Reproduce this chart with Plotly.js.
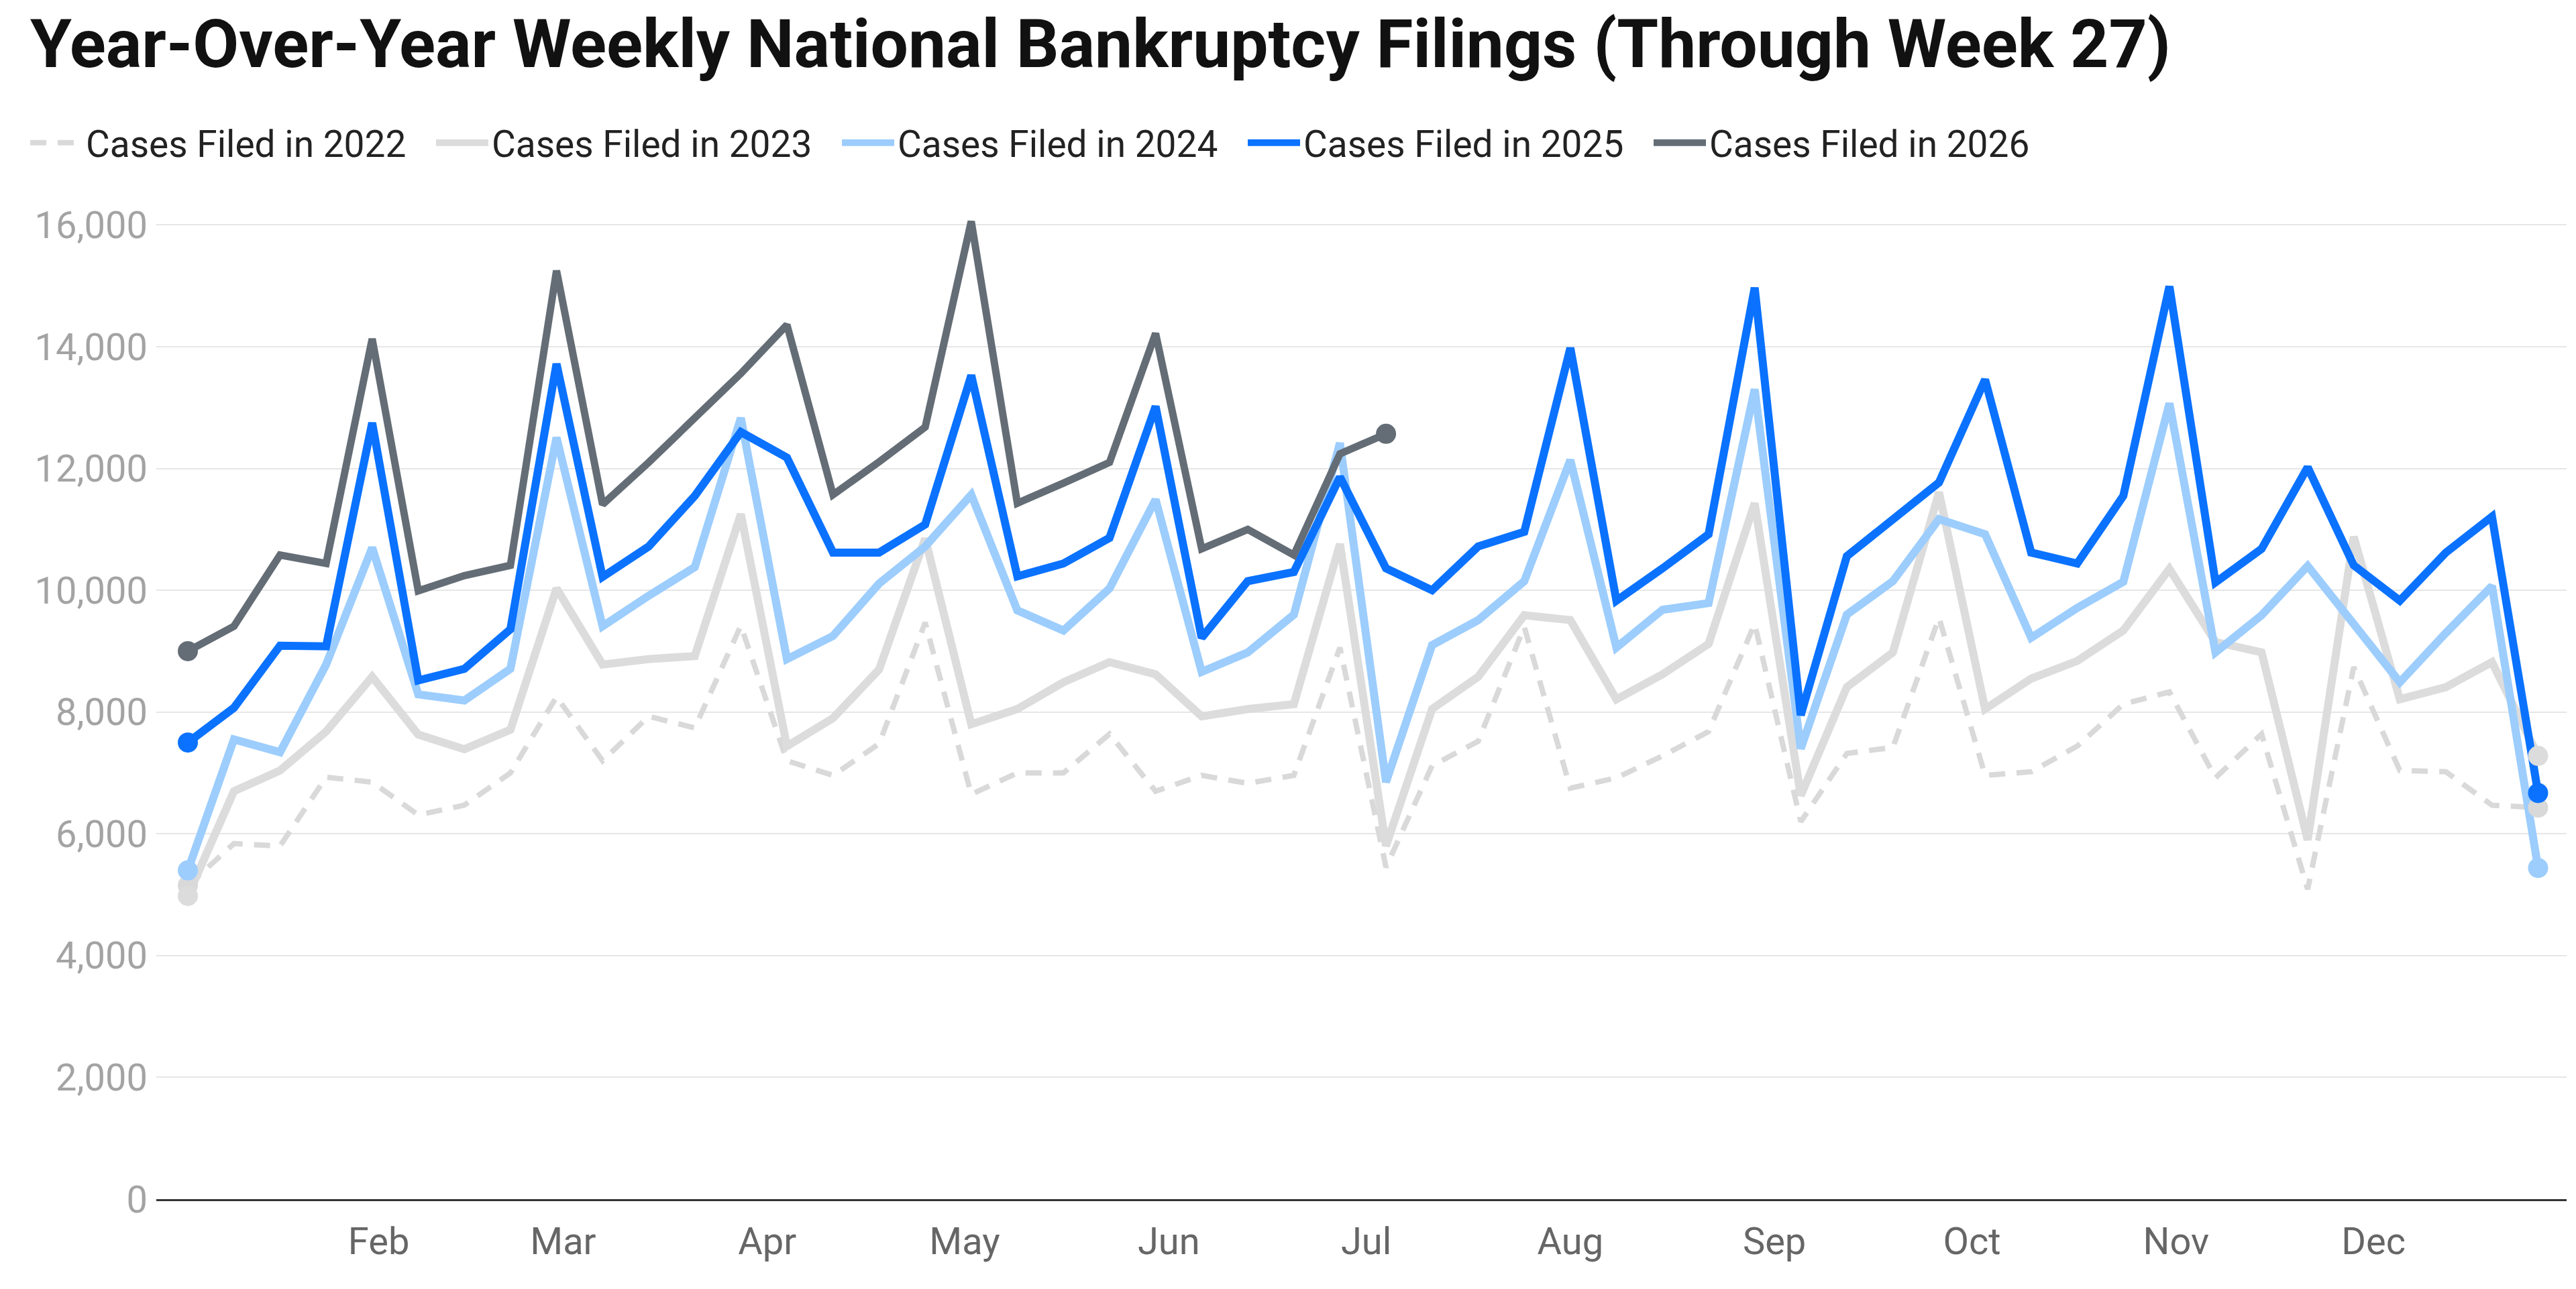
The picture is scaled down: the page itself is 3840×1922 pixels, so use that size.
<!DOCTYPE html>
<html>
<head>
<meta charset="utf-8">
<script src="https://cdn.plot.ly/plotly-3.0.1.min.js"></script>
<style>
  html, body { margin: 0; padding: 0; background: #ffffff; }
  #chart { width: 3840px; height: 1922px; }
</style>
</head>
<body>
<div id="chart"></div>
<script>
// Week-ending dates (weeks 1..52)
const weeks = [
  '2025-01-03','2025-01-10','2025-01-17','2025-01-24','2025-01-31',
  '2025-02-07','2025-02-14','2025-02-21','2025-02-28',
  '2025-03-07','2025-03-14','2025-03-21','2025-03-28',
  '2025-04-04','2025-04-11','2025-04-18','2025-04-25',
  '2025-05-02','2025-05-09','2025-05-16','2025-05-23','2025-05-30',
  '2025-06-06','2025-06-13','2025-06-20','2025-06-27',
  '2025-07-04','2025-07-11','2025-07-18','2025-07-25',
  '2025-08-01','2025-08-08','2025-08-15','2025-08-22','2025-08-29',
  '2025-09-05','2025-09-12','2025-09-19','2025-09-26',
  '2025-10-03','2025-10-10','2025-10-17','2025-10-24','2025-10-31',
  '2025-11-07','2025-11-14','2025-11-21','2025-11-28',
  '2025-12-05','2025-12-12','2025-12-19','2025-12-26'
];

const cases2022 = [5150,5840,5800,6930,6850,6310,6470,7000,8250,7200,7930,7740,9420,7200,6960,7480,9470,6650,7000,7000,7640,6700,6960,6830,6960,9060,5450,7120,7520,9400,6750,6920,7280,7680,9450,6200,7320,7420,9550,6960,7020,7440,8130,8330,6920,7640,5090,8740,7040,7020,6470,6430];
const cases2023 = [4980,6700,7040,7680,8580,7630,7390,7710,10030,8780,8870,8920,11250,7440,7900,8700,10850,7800,8050,8490,8820,8620,7930,8050,8130,10760,5800,8050,8580,9590,9510,8210,8620,9120,11430,6630,8410,8980,11610,8050,8550,8840,9340,10350,9150,8980,5900,10880,8210,8410,8820,7280];
const cases2024 = [5400,7550,7340,8780,10700,8290,8190,8710,12510,9410,9910,10380,12830,8870,9250,10110,10720,11570,9670,9340,10030,11490,8660,8980,9600,12420,6850,9100,9510,10150,12140,9060,9680,9790,13300,7400,9600,10150,11170,10920,9220,9710,10140,13070,8980,9590,10400,9470,8490,9300,10070,5440];
const cases2025 = [7500,8070,9090,9080,12750,8520,8710,9360,13720,10220,10720,11550,12600,12180,10620,10620,11080,13530,10230,10440,10860,13020,9220,10150,10300,11860,10360,10000,10720,10960,13980,9830,10360,10920,14970,7950,10560,11170,11770,13460,10620,10440,11550,14990,10130,10680,12020,10410,9830,10620,11210,6670];
const cases2026 = [9000,9410,10580,10440,14130,9990,10240,10410,15250,11410,12100,12830,13560,14360,11570,12110,12680,16060,11430,11760,12100,14220,10680,11000,10580,12240,12570];

const seriesNames = ['Cases Filed in 2022','Cases Filed in 2023','Cases Filed in 2024','Cases Filed in 2025','Cases Filed in 2026'];
const monthTicks = ['2025-02-01','2025-03-01','2025-04-01','2025-05-01','2025-06-01','2025-07-01','2025-08-01','2025-09-01','2025-10-01','2025-11-01','2025-12-01'];
const monthLabels = ['Feb','Mar','Apr','May','Jun','Jul','Aug','Sep','Oct','Nov','Dec'];
const yTicks = [0,2000,4000,6000,8000,10000,12000,14000,16000];

const seriesData = [cases2022, cases2023, cases2024, cases2025, cases2026];
const styles = [
  {color: '#d9d9d9', width: 8, dash: '24px,17px'},
  {color: '#dcdcdc', width: 12, dash: 'solid'},
  {color: '#9ccdfd', width: 12, dash: 'solid'},
  {color: '#0a72ff', width: 12, dash: 'solid'},
  {color: '#646d76', width: 11, dash: 'solid'}
];

const traces = [];
seriesData.forEach((vals, i) => {
  const xs = weeks.slice(0, vals.length);
  traces.push({
    type: 'scatter', mode: 'lines', name: seriesNames[i],
    x: xs, y: vals,
    line: {color: styles[i].color, width: styles[i].width, dash: styles[i].dash},
    hoverinfo: 'x+y'
  });
});
seriesData.forEach((vals, i) => {
  const n = vals.length;
  traces.push({
    type: 'scatter', mode: 'markers', showlegend: false,
    x: [weeks[0], weeks[n - 1]], y: [vals[0], vals[n - 1]],
    marker: {color: styles[i].color, size: 30},
    hoverinfo: 'skip'
  });
});

const layout = {
  width: 3840, height: 1922,
  paper_bgcolor: '#ffffff', plot_bgcolor: '#ffffff',
  font: {family: 'Roboto, "Open Sans", sans-serif', color: '#222222'},
  margin: {l: 233, r: 14, t: 281, b: 134, pad: 0},
  title: {
    text: 'Year-Over-Year Weekly National Bankruptcy Filings (Through Week 27)',
    font: {family: 'Roboto, sans-serif', size: 100, weight: 700, color: '#111111'},
    x: 45 / 3840, xref: 'container', xanchor: 'left',
    y: 1 - 30 / 1922, yref: 'container', yanchor: 'top'
  },
  showlegend: true,
  legend: {
    orientation: 'h', xref: 'container', yref: 'container',
    x: 40 / 3840, xanchor: 'left', y: 1 - 213 / 1922, yanchor: 'middle',
    font: {family: 'Roboto, sans-serif', size: 55, color: '#222222'},
    entrywidth: 512, entrywidthmode: 'pixels',
    itemwidth: 78, traceorder: 'normal', bgcolor: 'rgba(0,0,0,0)'
  },
  xaxis: {
    type: 'date',
    range: ['2024-12-29 05:00', '2025-12-30 08:00'],
    tickvals: monthTicks, ticktext: monthLabels,
    showgrid: false, zeroline: false,
    showline: true, linecolor: '#333333', linewidth: 3,
    ticks: '', ticklabelstandoff: 12,
    tickfont: {family: 'Roboto, sans-serif', size: 56, color: '#666666'}
  },
  yaxis: {
    range: [0, 16600],
    tickvals: yTicks, tickformat: ',d',
    showgrid: true, gridcolor: '#e6e6e6', gridwidth: 2,
    zeroline: false, showline: false, ticks: '', ticklabelstandoff: 12,
    tickfont: {family: 'Roboto, sans-serif', size: 56, color: '#a3a3a3'}
  },
  hovermode: false
};

Plotly.newPlot('chart', traces, layout, {displayModeBar: false, staticPlot: true});
</script>
</body>
</html>
